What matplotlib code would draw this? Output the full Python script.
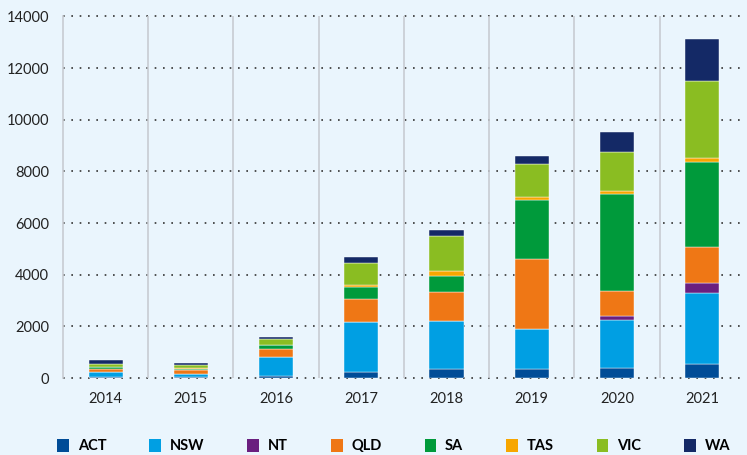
import matplotlib
matplotlib.use("Agg")
import matplotlib.pyplot as plt
import numpy as np

years = ["2014", "2015", "2016", "2017", "2018", "2019", "2020", "2021"]
states = ["ACT", "NSW", "NT", "QLD", "SA", "TAS", "VIC", "WA"]

act = [30, 30, 90, 220, 335, 360, 400, 530]
nsw = [200, 120, 710, 1960, 1875, 1525, 1860, 2760]
nt = [0, 0, 0, 0, 0, 0, 140, 375]
qld = [130, 180, 320, 870, 1135, 2735, 970, 1420]
sa = [55, 20, 145, 460, 620, 2285, 3740, 3290]
tas = [10, 30, 10, 110, 170, 115, 115, 155]
vic = [140, 140, 255, 850, 1370, 1265, 1510, 2985]
wa = [155, 50, 80, 230, 240, 320, 800, 1615]

colors = ["#004c97", "#009fe3", "#6a1f7f", "#ef7715", "#009a3b", "#f7a600", "#8abd22", "#142966"]

bg = "#eaf5fd"
plt.rcParams["font.family"] = ["Lato", "DejaVu Sans"]

fig = plt.figure(figsize=(7.47, 4.55), dpi=100, facecolor=bg)
ax = fig.add_axes([0.0843, 0.169, 0.9127, 0.795], facecolor=bg)

x = np.arange(len(years))
bottom = np.zeros(len(years))
for name, vals, c in zip(states, [act, nsw, nt, qld, sa, tas, vic, wa], colors):
    vals = np.array(vals, dtype=float)
    ax.bar(x, vals, width=0.4, bottom=bottom, color=c, label=name,
           edgecolor="#ffffff", linewidth=0.3, zorder=3)
    bottom += vals

ax.set_xlim(-0.5, len(years) - 0.5)
ax.set_ylim(0, 14000)
ax.set_yticks(np.arange(0, 14001, 2000))
ax.set_xticks(x)
ax.set_xticklabels(years)

# dotted horizontal grid
for yv in np.arange(0, 14001, 2000):
    ax.axhline(yv, color="#333333", linestyle=(0, (1, 4)), linewidth=1.2, zorder=1, clip_on=False)
# vertical separators
for xv in np.arange(0.5, len(years) - 0.5, 1):
    ax.axvline(xv, color="#c8ccd2", linewidth=1.2, zorder=1)

for s in ["top", "right", "bottom"]:
    ax.spines[s].set_visible(False)
ax.spines["left"].set_color("#c8ccd2")
ax.spines["left"].set_linewidth(1.2)

ax.tick_params(axis="both", length=0, labelsize=10.5, colors="#222222")
ax.tick_params(axis="y", pad=10)
ax.tick_params(axis="x", pad=10)

leg = fig.legend(loc="lower center", bbox_to_anchor=(0.527, -0.025), ncol=8, frameon=False,
                 handlelength=0.8, handleheight=1.0, handletextpad=0.6, columnspacing=2.95,
                 prop={"weight": "bold", "size": 10.5})
for h in leg.legend_handles:
    h.set_edgecolor("none")

fig.savefig("out.png", dpi=100, facecolor=bg)
